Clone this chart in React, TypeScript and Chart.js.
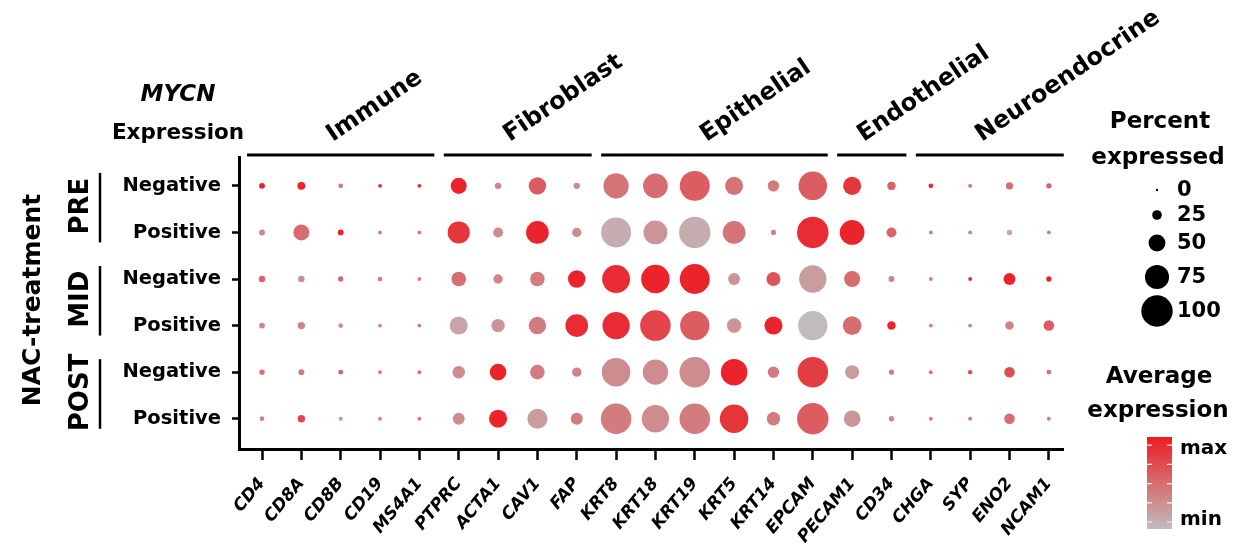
import React, { useEffect, useRef } from "react";
import { Chart, registerables } from "chart.js";
Chart.register(...registerables);

const FONT = "'DejaVu Sans', sans-serif";

const genes = ["CD4", "CD8A", "CD8B", "CD19", "MS4A1", "PTPRC", "ACTA1", "CAV1", "FAP", "KRT8", "KRT18", "KRT19", "KRT5", "KRT14", "EPCAM", "PECAM1", "CD34", "CHGA", "SYP", "ENO2", "NCAM1"];
const rowLabels = ["Negative", "Positive", "Negative", "Positive", "Negative", "Positive"];
const treatments = ["PRE", "MID", "POST"];
const groupNames = ["Immune", "Fibroblast", "Epithelial", "Endothelial", "Neuroendocrine"];
const groupFirst = [0, 5, 9, 15, 17];
const groupLast = [4, 8, 14, 16, 20];

// Percent expressed (0-100), one array per row, gene order as above
const pctPreNeg = [12, 19, 8, 5, 5, 47, 14, 52, 14, 79, 77, 95, 54, 31, 90, 54, 21, 8, 5, 17, 10];
const pctPrePos = [12, 47, 12, 5, 5, 68, 26, 70, 24, 95, 74, 100, 70, 10, 100, 77, 26, 5, 5, 10, 5];
const pctMidNeg = [14, 14, 10, 8, 5, 42, 24, 42, 52, 88, 90, 95, 33, 40, 86, 47, 12, 5, 5, 33, 10];
const pctMidPos = [12, 17, 8, 5, 5, 54, 38, 52, 70, 86, 97, 93, 42, 54, 93, 56, 21, 5, 5, 21, 28];
const pctPostNeg = [10, 12, 8, 5, 5, 35, 49, 42, 24, 90, 79, 97, 83, 31, 97, 40, 10, 5, 7, 28, 8];
const pctPostPos = [8, 17, 5, 5, 5, 33, 54, 61, 33, 97, 86, 97, 90, 38, 100, 49, 10, 5, 5, 28, 5];

// Average expression, scaled 0 (min) to 1 (max)
const avgPreNeg = [0.95, 0.95, 0.4, 0.9, 0.9, 0.95, 0.35, 0.6, 0.3, 0.45, 0.5, 0.6, 0.45, 0.4, 0.6, 0.85, 0.55, 0.95, 0.5, 0.5, 0.6];
const avgPrePos = [0.35, 0.5, 0.95, 0.4, 0.4, 0.85, 0.3, 0.95, 0.3, 0.1, 0.25, 0.1, 0.45, 0.35, 0.9, 0.95, 0.55, 0.4, 0.4, 0.15, 0.4];
const avgMidNeg = [0.55, 0.3, 0.55, 0.4, 0.4, 0.5, 0.35, 0.4, 0.95, 0.9, 0.95, 0.95, 0.25, 0.65, 0.2, 0.5, 0.35, 0.4, 0.95, 0.95, 0.95];
const avgMidPos = [0.35, 0.35, 0.3, 0.35, 0.4, 0.15, 0.25, 0.4, 0.9, 0.9, 0.75, 0.6, 0.25, 0.95, 0.0, 0.5, 0.95, 0.4, 0.4, 0.35, 0.6];
const avgPostNeg = [0.5, 0.4, 0.6, 0.4, 0.5, 0.3, 0.95, 0.4, 0.35, 0.3, 0.3, 0.3, 0.95, 0.4, 0.8, 0.2, 0.4, 0.45, 0.7, 0.7, 0.45];
const avgPostPos = [0.35, 0.75, 0.3, 0.35, 0.4, 0.3, 0.95, 0.2, 0.4, 0.4, 0.3, 0.4, 0.85, 0.4, 0.6, 0.25, 0.35, 0.4, 0.4, 0.5, 0.4];

const pctRows = [pctPreNeg, pctPrePos, pctMidNeg, pctMidPos, pctPostNeg, pctPostPos];
const avgRows = [avgPreNeg, avgPrePos, avgMidNeg, avgMidPos, avgPostNeg, avgPostPos];

const sizeLegendValues = [0, 25, 50, 75, 100];

const LO = [192, 188, 189];
const HI = [237, 28, 36];
function colorFor(t: number) {
  const c = LO.map((l, i) => Math.round(l + (HI[i] - l) * t));
  return `rgb(${c[0]},${c[1]},${c[2]})`;
}
function radiusFor(p: number) {
  return 1.2 + 0.145 * p;
}

const overlay = {
  id: "overlay",
  afterDraw(chart: any) {
    const ctx = chart.ctx as CanvasRenderingContext2D;
    const xs = chart.scales.x;
    const ys = chart.scales.y;
    ctx.save();
    ctx.fillStyle = "#000";
    ctx.strokeStyle = "#000";

    // group bars + labels
    groupNames.forEach((name, g) => {
      const x0 = xs.getPixelForValue(groupFirst[g] - 0.38);
      const x1 = xs.getPixelForValue(groupLast[g] + 0.38);
      ctx.lineWidth = 3;
      ctx.beginPath();
      ctx.moveTo(x0, 155);
      ctx.lineTo(x1, 155);
      ctx.stroke();
      ctx.save();
      ctx.translate((x0 + x1) / 2 - 8, 142);
      ctx.rotate((-34 * Math.PI) / 180);
      ctx.font = `bold 24px ${FONT}`;
      ctx.textAlign = "left";
      ctx.textBaseline = "alphabetic";
      ctx.fillText(name, 0, 0);
      ctx.restore();
    });

    // left titles
    ctx.textAlign = "center";
    ctx.textBaseline = "middle";
    ctx.font = `italic bold 23px ${FONT}`;
    ctx.fillText("MYCN", 178, 95);
    ctx.font = `bold 21.5px ${FONT}`;
    ctx.fillText("Expression", 178, 133);

    ctx.save();
    ctx.translate(33, 300);
    ctx.rotate(-Math.PI / 2);
    ctx.font = `bold 25px ${FONT}`;
    ctx.fillText("NAC-treatment", 0, 0);
    ctx.restore();

    treatments.forEach((t, i) => {
      const ya = ys.getPixelForValue(i * 2);
      const yb = ys.getPixelForValue(i * 2 + 1);
      ctx.save();
      ctx.translate(81, (ya + yb) / 2 - 3);
      ctx.rotate(-Math.PI / 2);
      ctx.font = `bold 26px ${FONT}`;
      ctx.fillText(t, 0, 0);
      ctx.restore();
      ctx.lineWidth = 2.5;
      ctx.beginPath();
      ctx.moveTo(100, ya - 13);
      ctx.lineTo(100, yb + 10);
      ctx.stroke();
    });

    // size legend
    ctx.font = `bold 23px ${FONT}`;
    ctx.fillText("Percent", 1160, 122);
    ctx.fillText("expressed", 1158, 158);
    const ly = [190, 215, 243, 277, 311];
    sizeLegendValues.forEach((v, i) => {
      ctx.beginPath();
      ctx.arc(1157, ly[i], radiusFor(v), 0, Math.PI * 2);
      ctx.fill();
    });
    ctx.textAlign = "left";
    ctx.font = `bold 21px ${FONT}`;
    sizeLegendValues.forEach((v, i) => ctx.fillText(String(v), 1177, ly[i] + 1));

    // color legend
    ctx.textAlign = "center";
    ctx.font = `bold 23px ${FONT}`;
    ctx.fillText("Average", 1159, 377);
    ctx.fillText("expression", 1158, 411);
    const cbTop = 437, cbBot = 529, cbL = 1147, cbR = 1172;
    const grad = ctx.createLinearGradient(0, cbBot, 0, cbTop);
    for (let k = 0; k <= 10; k++) grad.addColorStop(k / 10, colorFor(k / 10));
    ctx.fillStyle = grad;
    ctx.fillRect(cbL, cbTop, cbR - cbL, cbBot - cbTop);
    ctx.strokeStyle = "rgba(255,255,255,0.9)";
    ctx.lineWidth = 1.2;
    for (let k = 0; k < 5; k++) {
      const y = 522 - k * 19.2;
      ctx.beginPath();
      ctx.moveTo(cbL, y);
      ctx.lineTo(cbL + 5, y);
      ctx.moveTo(cbR - 5, y);
      ctx.lineTo(cbR, y);
      ctx.stroke();
    }
    ctx.fillStyle = "#000";
    ctx.textAlign = "left";
    ctx.font = `bold 20px ${FONT}`;
    ctx.fillText("max", 1180, 449);
    ctx.fillText("min", 1180, 520);
    ctx.restore();
  },
};

export default function App() {
  const ref = useRef<HTMLCanvasElement | null>(null);
  useEffect(() => {
    if (!ref.current) return;
    const points: any[] = [];
    const colors: string[] = [];
    pctRows.forEach((row, r) => {
      row.forEach((p, g) => {
        points.push({ x: g, y: r, r: radiusFor(p) });
        colors.push(colorFor(avgRows[r][g]));
      });
    });
    const chart = new Chart(ref.current, {
      type: "bubble",
      data: {
        datasets: [
          {
            data: points,
            backgroundColor: colors,
            borderWidth: 0,
            hoverRadius: 0,
          } as any,
        ],
      },
      options: {
        responsive: false,
        animation: false,
        events: [],
        layout: { padding: { left: 0, right: 178, top: 157, bottom: 0 } },
        plugins: { legend: { display: false }, tooltip: { enabled: false } },
        scales: {
          x: {
            type: "linear",
            min: -0.585,
            max: 20.36,
            afterBuildTicks: (s: any) => {
              s.ticks = genes.map((_, i) => ({ value: i }));
            },
            afterFit: (s: any) => {
              s.height = 97;
            },
            ticks: {
              autoSkip: false,
              minRotation: 50,
              maxRotation: 50,
              padding: 14,
              color: "#000",
              font: { family: FONT, size: 17, weight: "bold", style: "italic" },
              callback: (v: any) => genes[v as number] ?? "",
            },
            grid: { drawOnChartArea: false, drawTicks: true, tickLength: 11, tickWidth: 2.5, tickColor: "#000" },
            border: { display: true, color: "#000", width: 3 },
          },
          y: {
            type: "linear",
            reverse: true,
            min: -0.62,
            max: 5.65,
            afterBuildTicks: (s: any) => {
              s.ticks = rowLabels.map((_, i) => ({ value: i }));
            },
            afterFit: (s: any) => {
              s.width = 239;
            },
            ticks: {
              padding: 11,
              color: "#000",
              font: { family: FONT, size: 19.5, weight: "bold" },
              callback: (v: any) => rowLabels[v as number] ?? "",
            },
            grid: { drawOnChartArea: false, drawTicks: true, tickLength: 7, tickWidth: 2.5, tickColor: "#000" },
            border: { display: true, color: "#000", width: 3 },
          },
        },
      } as any,
      plugins: [overlay],
    });
    return () => chart.destroy();
  }, []);
  return (
    <div style={{ position: "fixed", left: 0, top: 0, width: 1241, height: 546, background: "#fff" }}>
      <canvas ref={ref} width={1241} height={546} style={{ width: 1241, height: 546 }} />
    </div>
  );
}
